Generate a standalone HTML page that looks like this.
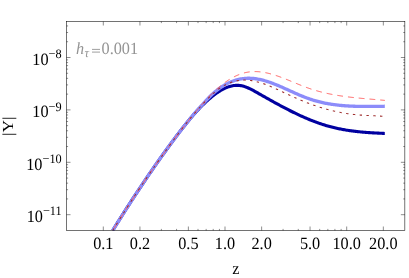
<!DOCTYPE html>
<html><head><meta charset="utf-8"><title>plot</title>
<style>
html,body{margin:0;padding:0;background:#fff;}
body{width:409px;height:278px;overflow:hidden;}
svg{display:block;}
text{font-family:"Liberation Serif",serif;font-size:16.25px;fill:#000;text-rendering:geometricPrecision;}
svg{will-change:transform;}
</style></head><body>
<svg width="409" height="278" viewBox="0 0 409 278">
<rect width="409" height="278" fill="#fff"/>
<defs><clipPath id="c"><rect x="66.5" y="21.5" width="338.35" height="209.0"/></clipPath></defs>
<g clip-path="url(#c)" fill="none" stroke-linejoin="round">
<path d="M112.70,230.50 L113.70,228.88 L114.70,227.26 L115.70,225.65 L116.70,224.04 L117.70,222.44 L118.70,220.84 L119.70,219.24 L120.70,217.65 L121.70,216.07 L122.70,214.49 L123.70,212.91 L124.70,211.34 L125.70,209.77 L126.70,208.21 L127.70,206.65 L128.70,205.09 L129.70,203.54 L130.70,201.99 L131.70,200.45 L132.70,198.92 L133.70,197.38 L134.70,195.86 L135.70,194.33 L136.70,192.81 L137.70,191.30 L138.70,189.79 L139.70,188.28 L140.70,186.78 L141.70,185.28 L142.70,183.79 L143.70,182.30 L144.70,180.82 L145.70,179.34 L146.70,177.87 L147.70,176.40 L148.70,174.94 L149.70,173.47 L150.70,172.02 L151.70,170.57 L152.70,169.12 L153.70,167.68 L154.70,166.24 L155.70,164.81 L156.70,163.38 L157.70,161.96 L158.70,160.54 L159.70,159.12 L160.70,157.72 L161.70,156.31 L162.70,154.91 L163.70,153.51 L164.70,152.12 L165.70,150.74 L166.70,149.36 L167.70,147.98 L168.70,146.61 L169.70,145.24 L170.70,143.88 L171.70,142.52 L172.70,141.16 L173.70,139.81 L174.70,138.47 L175.70,137.13 L176.70,135.80 L177.70,134.47 L178.70,133.15 L179.70,131.84 L180.70,130.54 L181.70,129.25 L182.70,127.96 L183.70,126.68 L184.70,125.42 L185.70,124.17 L186.70,122.92 L187.70,121.69 L188.70,120.48 L189.70,119.27 L190.70,118.08 L191.70,116.91 L192.70,115.75 L193.70,114.60 L194.70,113.47 L195.70,112.35 L196.70,111.25 L197.70,110.17 L198.70,109.10 L199.70,108.05 L200.70,107.02 L201.70,106.00 L202.70,105.00 L203.70,104.02 L204.70,103.06 L205.70,102.12 L206.70,101.20 L207.70,100.29 L208.70,99.41 L209.70,98.55 L210.70,97.71 L211.70,96.89 L212.70,96.09 L213.70,95.31 L214.70,94.55 L215.70,93.82 L216.70,93.11 L217.70,92.42 L218.70,91.76 L219.70,91.13 L220.70,90.52 L221.70,89.95 L222.70,89.40 L223.70,88.88 L224.70,88.39 L225.70,87.93 L226.70,87.51 L227.70,87.12 L228.70,86.77 L229.70,86.45 L230.70,86.17 L231.70,85.93 L232.70,85.73 L233.70,85.57 L234.70,85.44 L235.70,85.37 L236.70,85.33 L237.70,85.34 L238.70,85.39 L239.70,85.49 L240.70,85.63 L241.70,85.82 L242.70,86.06 L243.70,86.33 L244.70,86.64 L245.70,86.99 L246.70,87.37 L247.70,87.78 L248.70,88.22 L249.70,88.68 L250.70,89.17 L251.70,89.67 L252.70,90.20 L253.70,90.73 L254.70,91.28 L255.70,91.84 L256.70,92.40 L257.70,92.97 L258.70,93.54 L259.70,94.11 L260.70,94.68 L261.70,95.25 L262.70,95.81 L263.70,96.38 L264.70,96.95 L265.70,97.51 L266.70,98.08 L267.70,98.64 L268.70,99.20 L269.70,99.76 L270.70,100.32 L271.70,100.88 L272.70,101.43 L273.70,101.99 L274.70,102.54 L275.70,103.09 L276.70,103.63 L277.70,104.18 L278.70,104.72 L279.70,105.26 L280.70,105.80 L281.70,106.33 L282.70,106.86 L283.70,107.39 L284.70,107.92 L285.70,108.44 L286.70,108.96 L287.70,109.47 L288.70,109.99 L289.70,110.49 L290.70,111.00 L291.70,111.50 L292.70,111.99 L293.70,112.49 L294.70,112.97 L295.70,113.46 L296.70,113.93 L297.70,114.41 L298.70,114.88 L299.70,115.34 L300.70,115.80 L301.70,116.25 L302.70,116.70 L303.70,117.15 L304.70,117.59 L305.70,118.02 L306.70,118.45 L307.70,118.87 L308.70,119.29 L309.70,119.70 L310.70,120.10 L311.70,120.50 L312.70,120.89 L313.70,121.28 L314.70,121.66 L315.70,122.03 L316.70,122.40 L317.70,122.76 L318.70,123.12 L319.70,123.46 L320.70,123.81 L321.70,124.14 L322.70,124.47 L323.70,124.78 L324.70,125.10 L325.70,125.40 L326.70,125.70 L327.70,125.99 L328.70,126.27 L329.70,126.54 L330.70,126.81 L331.70,127.07 L332.70,127.32 L333.70,127.57 L334.70,127.81 L335.70,128.04 L336.70,128.26 L337.70,128.48 L338.70,128.69 L339.70,128.89 L340.70,129.09 L341.70,129.28 L342.70,129.47 L343.70,129.65 L344.70,129.83 L345.70,129.99 L346.70,130.16 L347.70,130.31 L348.70,130.47 L349.70,130.61 L350.70,130.76 L351.70,130.89 L352.70,131.03 L353.70,131.15 L354.70,131.28 L355.70,131.39 L356.70,131.51 L357.70,131.62 L358.70,131.72 L359.70,131.83 L360.70,131.92 L361.70,132.02 L362.70,132.11 L363.70,132.19 L364.70,132.28 L365.70,132.36 L366.70,132.44 L367.70,132.51 L368.70,132.58 L369.70,132.65 L370.70,132.72 L371.70,132.78 L372.70,132.84 L373.70,132.90 L374.70,132.96 L375.70,133.01 L376.70,133.06 L377.70,133.11 L378.70,133.16 L379.70,133.21 L380.70,133.26 L381.70,133.30 L382.70,133.35 L383.70,133.39 L384.70,133.43 L384.80,133.43" stroke="#0000a0" stroke-width="3.1"/>
<path d="M112.70,230.49 L113.70,228.89 L114.70,227.29 L115.70,225.69 L116.70,224.10 L117.70,222.51 L118.70,220.92 L119.70,219.33 L120.70,217.75 L121.70,216.17 L122.70,214.59 L123.70,213.02 L124.70,211.45 L125.70,209.89 L126.70,208.32 L127.70,206.76 L128.70,205.21 L129.70,203.66 L130.70,202.11 L131.70,200.56 L132.70,199.02 L133.70,197.48 L134.70,195.95 L135.70,194.42 L136.70,192.90 L137.70,191.37 L138.70,189.86 L139.70,188.34 L140.70,186.84 L141.70,185.33 L142.70,183.83 L143.70,182.33 L144.70,180.84 L145.70,179.36 L146.70,177.87 L147.70,176.40 L148.70,174.92 L149.70,173.45 L150.70,171.99 L151.70,170.53 L152.70,169.08 L153.70,167.63 L154.70,166.18 L155.70,164.75 L156.70,163.31 L157.70,161.88 L158.70,160.46 L159.70,159.04 L160.70,157.63 L161.70,156.22 L162.70,154.82 L163.70,153.42 L164.70,152.03 L165.70,150.64 L166.70,149.26 L167.70,147.89 L168.70,146.52 L169.70,145.16 L170.70,143.80 L171.70,142.45 L172.70,141.11 L173.70,139.77 L174.70,138.43 L175.70,137.11 L176.70,135.79 L177.70,134.47 L178.70,133.16 L179.70,131.86 L180.70,130.57 L181.70,129.28 L182.70,128.00 L183.70,126.72 L184.70,125.45 L185.70,124.19 L186.70,122.93 L187.70,121.69 L188.70,120.44 L189.70,119.21 L190.70,117.98 L191.70,116.77 L192.70,115.56 L193.70,114.37 L194.70,113.19 L195.70,112.02 L196.70,110.88 L197.70,109.75 L198.70,108.63 L199.70,107.53 L200.70,106.44 L201.70,105.35 L202.70,104.27 L203.70,103.18 L204.70,102.08 L205.70,100.99 L206.70,99.89 L207.70,98.81 L208.70,97.76 L209.70,96.73 L210.70,95.74 L211.70,94.78 L212.70,93.85 L213.70,92.95 L214.70,92.07 L215.70,91.23 L216.70,90.42 L217.70,89.64 L218.70,88.89 L219.70,88.16 L220.70,87.46 L221.70,86.80 L222.70,86.15 L223.70,85.54 L224.70,84.95 L225.70,84.39 L226.70,83.86 L227.70,83.35 L228.70,82.87 L229.70,82.41 L230.70,81.98 L231.70,81.58 L232.70,81.19 L233.70,80.84 L234.70,80.50 L235.70,80.19 L236.70,79.90 L237.70,79.64 L238.70,79.40 L239.70,79.18 L240.70,78.99 L241.70,78.82 L242.70,78.67 L243.70,78.55 L244.70,78.45 L245.70,78.37 L246.70,78.31 L247.70,78.27 L248.70,78.26 L249.70,78.27 L250.70,78.30 L251.70,78.35 L252.70,78.42 L253.70,78.51 L254.70,78.63 L255.70,78.76 L256.70,78.91 L257.70,79.08 L258.70,79.26 L259.70,79.47 L260.70,79.69 L261.70,79.92 L262.70,80.17 L263.70,80.44 L264.70,80.72 L265.70,81.01 L266.70,81.32 L267.70,81.64 L268.70,81.97 L269.70,82.31 L270.70,82.66 L271.70,83.03 L272.70,83.40 L273.70,83.78 L274.70,84.17 L275.70,84.57 L276.70,84.98 L277.70,85.39 L278.70,85.81 L279.70,86.24 L280.70,86.67 L281.70,87.11 L282.70,87.55 L283.70,87.99 L284.70,88.44 L285.70,88.89 L286.70,89.34 L287.70,89.79 L288.70,90.25 L289.70,90.70 L290.70,91.16 L291.70,91.61 L292.70,92.06 L293.70,92.51 L294.70,92.96 L295.70,93.41 L296.70,93.85 L297.70,94.29 L298.70,94.72 L299.70,95.15 L300.70,95.57 L301.70,95.98 L302.70,96.39 L303.70,96.79 L304.70,97.19 L305.70,97.57 L306.70,97.95 L307.70,98.31 L308.70,98.67 L309.70,99.02 L310.70,99.35 L311.70,99.68 L312.70,99.99 L313.70,100.30 L314.70,100.60 L315.70,100.88 L316.70,101.16 L317.70,101.43 L318.70,101.69 L319.70,101.94 L320.70,102.18 L321.70,102.41 L322.70,102.64 L323.70,102.85 L324.70,103.06 L325.70,103.26 L326.70,103.45 L327.70,103.64 L328.70,103.82 L329.70,103.99 L330.70,104.15 L331.70,104.30 L332.70,104.45 L333.70,104.59 L334.70,104.73 L335.70,104.86 L336.70,104.98 L337.70,105.10 L338.70,105.21 L339.70,105.31 L340.70,105.41 L341.70,105.50 L342.70,105.59 L343.70,105.67 L344.70,105.75 L345.70,105.82 L346.70,105.88 L347.70,105.95 L348.70,106.00 L349.70,106.06 L350.70,106.10 L351.70,106.15 L352.70,106.19 L353.70,106.23 L354.70,106.26 L355.70,106.29 L356.70,106.32 L357.70,106.34 L358.70,106.36 L359.70,106.38 L360.70,106.39 L361.70,106.40 L362.70,106.41 L363.70,106.42 L364.70,106.42 L365.70,106.42 L366.70,106.42 L367.70,106.42 L368.70,106.42 L369.70,106.41 L370.70,106.41 L371.70,106.40 L372.70,106.39 L373.70,106.39 L374.70,106.38 L375.70,106.37 L376.70,106.36 L377.70,106.34 L378.70,106.33 L379.70,106.32 L380.70,106.31 L381.70,106.30 L382.70,106.29 L383.70,106.28 L384.70,106.27 L384.80,106.27" stroke="#8c8cfa" stroke-width="3.3"/>
<path d="M112.70,230.50 L113.70,228.88 L114.70,227.26 L115.70,225.65 L116.70,224.05 L117.70,222.44 L118.70,220.85 L119.70,219.25 L120.70,217.66 L121.70,216.08 L122.70,214.49 L123.70,212.92 L124.70,211.34 L125.70,209.77 L126.70,208.21 L127.70,206.65 L128.70,205.09 L129.70,203.54 L130.70,202.00 L131.70,200.45 L132.70,198.91 L133.70,197.38 L134.70,195.85 L135.70,194.33 L136.70,192.81 L137.70,191.29 L138.70,189.78 L139.70,188.27 L140.70,186.77 L141.70,185.27 L142.70,183.78 L143.70,182.29 L144.70,180.81 L145.70,179.33 L146.70,177.85 L147.70,176.38 L148.70,174.92 L149.70,173.46 L150.70,172.00 L151.70,170.55 L152.70,169.10 L153.70,167.66 L154.70,166.23 L155.70,164.80 L156.70,163.37 L157.70,161.95 L158.70,160.53 L159.70,159.12 L160.70,157.71 L161.70,156.31 L162.70,154.91 L163.70,153.52 L164.70,152.13 L165.70,150.75 L166.70,149.37 L167.70,148.00 L168.70,146.63 L169.70,145.27 L170.70,143.92 L171.70,142.56 L172.70,141.22 L173.70,139.88 L174.70,138.54 L175.70,137.21 L176.70,135.88 L177.70,134.56 L178.70,133.25 L179.70,131.94 L180.70,130.64 L181.70,129.34 L182.70,128.04 L183.70,126.75 L184.70,125.47 L185.70,124.19 L186.70,122.92 L187.70,121.66 L188.70,120.39 L189.70,119.14 L190.70,117.89 L191.70,116.65 L192.70,115.41 L193.70,114.18 L194.70,112.96 L195.70,111.75 L196.70,110.54 L197.70,109.35 L198.70,108.16 L199.70,106.99 L200.70,105.82 L201.70,104.67 L202.70,103.53 L203.70,102.40 L204.70,101.28 L205.70,100.18 L206.70,99.09 L207.70,98.02 L208.70,96.96 L209.70,95.92 L210.70,94.89 L211.70,93.89 L212.70,92.90 L213.70,91.93 L214.70,90.99 L215.70,90.06 L216.70,89.15 L217.70,88.26 L218.70,87.40 L219.70,86.55 L220.70,85.73 L221.70,84.93 L222.70,84.15 L223.70,83.39 L224.70,82.65 L225.70,81.93 L226.70,81.24 L227.70,80.57 L228.70,79.92 L229.70,79.30 L230.70,78.69 L231.70,78.12 L232.70,77.56 L233.70,77.03 L234.70,76.52 L235.70,76.04 L236.70,75.58 L237.70,75.14 L238.70,74.73 L239.70,74.34 L240.70,73.98 L241.70,73.64 L242.70,73.33 L243.70,73.05 L244.70,72.79 L245.70,72.55 L246.70,72.35 L247.70,72.17 L248.70,72.01 L249.70,71.88 L250.70,71.77 L251.70,71.69 L252.70,71.63 L253.70,71.59 L254.70,71.58 L255.70,71.59 L256.70,71.61 L257.70,71.66 L258.70,71.73 L259.70,71.82 L260.70,71.93 L261.70,72.05 L262.70,72.19 L263.70,72.35 L264.70,72.53 L265.70,72.72 L266.70,72.93 L267.70,73.15 L268.70,73.39 L269.70,73.64 L270.70,73.91 L271.70,74.18 L272.70,74.47 L273.70,74.77 L274.70,75.08 L275.70,75.41 L276.70,75.74 L277.70,76.08 L278.70,76.43 L279.70,76.79 L280.70,77.15 L281.70,77.53 L282.70,77.91 L283.70,78.29 L284.70,78.68 L285.70,79.08 L286.70,79.48 L287.70,79.88 L288.70,80.29 L289.70,80.70 L290.70,81.11 L291.70,81.52 L292.70,81.94 L293.70,82.35 L294.70,82.76 L295.70,83.18 L296.70,83.59 L297.70,84.00 L298.70,84.41 L299.70,84.81 L300.70,85.21 L301.70,85.61 L302.70,86.00 L303.70,86.39 L304.70,86.77 L305.70,87.15 L306.70,87.52 L307.70,87.88 L308.70,88.23 L309.70,88.58 L310.70,88.91 L311.70,89.24 L312.70,89.56 L313.70,89.88 L314.70,90.18 L315.70,90.48 L316.70,90.77 L317.70,91.05 L318.70,91.33 L319.70,91.60 L320.70,91.86 L321.70,92.12 L322.70,92.37 L323.70,92.61 L324.70,92.85 L325.70,93.08 L326.70,93.31 L327.70,93.52 L328.70,93.74 L329.70,93.94 L330.70,94.15 L331.70,94.34 L332.70,94.53 L333.70,94.72 L334.70,94.90 L335.70,95.08 L336.70,95.25 L337.70,95.42 L338.70,95.58 L339.70,95.74 L340.70,95.89 L341.70,96.04 L342.70,96.18 L343.70,96.33 L344.70,96.46 L345.70,96.60 L346.70,96.73 L347.70,96.86 L348.70,96.98 L349.70,97.10 L350.70,97.22 L351.70,97.33 L352.70,97.45 L353.70,97.56 L354.70,97.66 L355.70,97.77 L356.70,97.87 L357.70,97.97 L358.70,98.07 L359.70,98.17 L360.70,98.26 L361.70,98.36 L362.70,98.45 L363.70,98.54 L364.70,98.63 L365.70,98.72 L366.70,98.81 L367.70,98.90 L368.70,98.98 L369.70,99.07 L370.70,99.15 L371.70,99.24 L372.70,99.32 L373.70,99.41 L374.70,99.49 L375.70,99.58 L376.70,99.67 L377.70,99.75 L378.70,99.84 L379.70,99.93 L380.70,100.02 L381.70,100.10 L382.70,100.20 L383.70,100.29 L384.70,100.38 L384.80,100.39" stroke="#ff6060" stroke-width="1.0" stroke-dasharray="5.8 5.0" stroke-dashoffset="8.15"/>
<path d="M112.70,230.50 L113.70,228.87 L114.70,227.24 L115.70,225.62 L116.70,224.01 L117.70,222.40 L118.70,220.79 L119.70,219.19 L120.70,217.60 L121.70,216.01 L122.70,214.42 L123.70,212.84 L124.70,211.27 L125.70,209.70 L126.70,208.13 L127.70,206.57 L128.70,205.02 L129.70,203.47 L130.70,201.93 L131.70,200.39 L132.70,198.85 L133.70,197.32 L134.70,195.80 L135.70,194.28 L136.70,192.76 L137.70,191.25 L138.70,189.74 L139.70,188.24 L140.70,186.75 L141.70,185.26 L142.70,183.77 L143.70,182.29 L144.70,180.81 L145.70,179.34 L146.70,177.87 L147.70,176.40 L148.70,174.95 L149.70,173.49 L150.70,172.04 L151.70,170.59 L152.70,169.15 L153.70,167.72 L154.70,166.28 L155.70,164.86 L156.70,163.43 L157.70,162.01 L158.70,160.60 L159.70,159.19 L160.70,157.78 L161.70,156.38 L162.70,154.98 L163.70,153.59 L164.70,152.20 L165.70,150.81 L166.70,149.43 L167.70,148.06 L168.70,146.68 L169.70,145.31 L170.70,143.95 L171.70,142.59 L172.70,141.23 L173.70,139.88 L174.70,138.53 L175.70,137.19 L176.70,135.85 L177.70,134.52 L178.70,133.19 L179.70,131.87 L180.70,130.56 L181.70,129.25 L182.70,127.95 L183.70,126.67 L184.70,125.39 L185.70,124.12 L186.70,122.86 L187.70,121.62 L188.70,120.38 L189.70,119.16 L190.70,117.95 L191.70,116.75 L192.70,115.56 L193.70,114.38 L194.70,113.21 L195.70,112.05 L196.70,110.90 L197.70,109.76 L198.70,108.62 L199.70,107.50 L200.70,106.38 L201.70,105.27 L202.70,104.17 L203.70,103.09 L204.70,102.01 L205.70,100.94 L206.70,99.88 L207.70,98.84 L208.70,97.82 L209.70,96.81 L210.70,95.83 L211.70,94.87 L212.70,93.94 L213.70,93.04 L214.70,92.16 L215.70,91.32 L216.70,90.51 L217.70,89.74 L218.70,88.99 L219.70,88.28 L220.70,87.60 L221.70,86.95 L222.70,86.33 L223.70,85.74 L224.70,85.19 L225.70,84.66 L226.70,84.16 L227.70,83.70 L228.70,83.26 L229.70,82.85 L230.70,82.48 L231.70,82.13 L232.70,81.80 L233.70,81.51 L234.70,81.25 L235.70,81.01 L236.70,80.80 L237.70,80.62 L238.70,80.46 L239.70,80.33 L240.70,80.23 L241.70,80.15 L242.70,80.10 L243.70,80.07 L244.70,80.07 L245.70,80.08 L246.70,80.13 L247.70,80.19 L248.70,80.28 L249.70,80.38 L250.70,80.51 L251.70,80.66 L252.70,80.82 L253.70,81.01 L254.70,81.21 L255.70,81.43 L256.70,81.67 L257.70,81.93 L258.70,82.20 L259.70,82.49 L260.70,82.79 L261.70,83.10 L262.70,83.43 L263.70,83.77 L264.70,84.13 L265.70,84.49 L266.70,84.87 L267.70,85.26 L268.70,85.66 L269.70,86.07 L270.70,86.48 L271.70,86.91 L272.70,87.34 L273.70,87.78 L274.70,88.23 L275.70,88.68 L276.70,89.13 L277.70,89.60 L278.70,90.06 L279.70,90.53 L280.70,91.00 L281.70,91.47 L282.70,91.95 L283.70,92.43 L284.70,92.90 L285.70,93.38 L286.70,93.85 L287.70,94.33 L288.70,94.80 L289.70,95.27 L290.70,95.74 L291.70,96.20 L292.70,96.66 L293.70,97.11 L294.70,97.56 L295.70,98.00 L296.70,98.44 L297.70,98.88 L298.70,99.31 L299.70,99.73 L300.70,100.16 L301.70,100.57 L302.70,100.98 L303.70,101.39 L304.70,101.79 L305.70,102.19 L306.70,102.58 L307.70,102.96 L308.70,103.34 L309.70,103.72 L310.70,104.09 L311.70,104.45 L312.70,104.81 L313.70,105.16 L314.70,105.51 L315.70,105.85 L316.70,106.19 L317.70,106.52 L318.70,106.84 L319.70,107.16 L320.70,107.48 L321.70,107.78 L322.70,108.08 L323.70,108.38 L324.70,108.67 L325.70,108.95 L326.70,109.23 L327.70,109.50 L328.70,109.77 L329.70,110.02 L330.70,110.28 L331.70,110.53 L332.70,110.77 L333.70,111.00 L334.70,111.23 L335.70,111.46 L336.70,111.67 L337.70,111.89 L338.70,112.09 L339.70,112.29 L340.70,112.49 L341.70,112.67 L342.70,112.86 L343.70,113.03 L344.70,113.20 L345.70,113.37 L346.70,113.52 L347.70,113.68 L348.70,113.82 L349.70,113.96 L350.70,114.10 L351.70,114.22 L352.70,114.35 L353.70,114.46 L354.70,114.57 L355.70,114.68 L356.70,114.77 L357.70,114.87 L358.70,114.95 L359.70,115.03 L360.70,115.11 L361.70,115.17 L362.70,115.24 L363.70,115.30 L364.70,115.35 L365.70,115.40 L366.70,115.45 L367.70,115.49 L368.70,115.53 L369.70,115.58 L370.70,115.62 L371.70,115.66 L372.70,115.70 L373.70,115.75 L374.70,115.79 L375.70,115.84 L376.70,115.89 L377.70,115.95 L378.70,116.01 L379.70,116.07 L380.70,116.14 L381.70,116.22 L382.70,116.31 L383.70,116.40 L384.70,116.50 L384.80,116.51" stroke="#a03030" stroke-width="1.1" stroke-dasharray="2.4 4.4" stroke-dashoffset="0.04"/>
</g>
<g stroke="#000" stroke-width="0.55" fill="none">
<rect x="66.5" y="21.5" width="338.35" height="209.0"/>
</g>
<g stroke="#000" stroke-width="0.45">
<line x1="103.30" y1="230.50" x2="103.30" y2="226.50"/><line x1="103.30" y1="21.50" x2="103.30" y2="25.50"/><line x1="139.94" y1="230.50" x2="139.94" y2="226.50"/><line x1="139.94" y1="21.50" x2="139.94" y2="25.50"/><line x1="188.36" y1="230.50" x2="188.36" y2="226.50"/><line x1="188.36" y1="21.50" x2="188.36" y2="25.50"/><line x1="225.00" y1="230.50" x2="225.00" y2="226.50"/><line x1="225.00" y1="21.50" x2="225.00" y2="25.50"/><line x1="261.64" y1="230.50" x2="261.64" y2="226.50"/><line x1="261.64" y1="21.50" x2="261.64" y2="25.50"/><line x1="310.06" y1="230.50" x2="310.06" y2="226.50"/><line x1="310.06" y1="21.50" x2="310.06" y2="25.50"/><line x1="346.70" y1="230.50" x2="346.70" y2="226.50"/><line x1="346.70" y1="21.50" x2="346.70" y2="25.50"/><line x1="383.34" y1="230.50" x2="383.34" y2="226.50"/><line x1="383.34" y1="21.50" x2="383.34" y2="25.50"/><line x1="161.37" y1="230.50" x2="161.37" y2="228.90"/><line x1="161.37" y1="21.50" x2="161.37" y2="23.10"/><line x1="176.57" y1="230.50" x2="176.57" y2="228.90"/><line x1="176.57" y1="21.50" x2="176.57" y2="23.10"/><line x1="198.00" y1="230.50" x2="198.00" y2="228.90"/><line x1="198.00" y1="21.50" x2="198.00" y2="23.10"/><line x1="206.15" y1="230.50" x2="206.15" y2="228.90"/><line x1="206.15" y1="21.50" x2="206.15" y2="23.10"/><line x1="213.21" y1="230.50" x2="213.21" y2="228.90"/><line x1="213.21" y1="21.50" x2="213.21" y2="23.10"/><line x1="219.43" y1="230.50" x2="219.43" y2="228.90"/><line x1="219.43" y1="21.50" x2="219.43" y2="23.10"/><line x1="283.07" y1="230.50" x2="283.07" y2="228.90"/><line x1="283.07" y1="21.50" x2="283.07" y2="23.10"/><line x1="298.27" y1="230.50" x2="298.27" y2="228.90"/><line x1="298.27" y1="21.50" x2="298.27" y2="23.10"/><line x1="319.70" y1="230.50" x2="319.70" y2="228.90"/><line x1="319.70" y1="21.50" x2="319.70" y2="23.10"/><line x1="327.85" y1="230.50" x2="327.85" y2="228.90"/><line x1="327.85" y1="21.50" x2="327.85" y2="23.10"/><line x1="334.91" y1="230.50" x2="334.91" y2="228.90"/><line x1="334.91" y1="21.50" x2="334.91" y2="23.10"/><line x1="341.13" y1="230.50" x2="341.13" y2="228.90"/><line x1="341.13" y1="21.50" x2="341.13" y2="23.10"/><line x1="66.50" y1="57.50" x2="70.50" y2="57.50"/><line x1="404.85" y1="57.50" x2="400.85" y2="57.50"/><line x1="66.50" y1="109.90" x2="70.50" y2="109.90"/><line x1="404.85" y1="109.90" x2="400.85" y2="109.90"/><line x1="66.50" y1="162.30" x2="70.50" y2="162.30"/><line x1="404.85" y1="162.30" x2="400.85" y2="162.30"/><line x1="66.50" y1="214.70" x2="70.50" y2="214.70"/><line x1="404.85" y1="214.70" x2="400.85" y2="214.70"/><line x1="66.50" y1="198.93" x2="68.10" y2="198.93"/><line x1="404.85" y1="198.93" x2="403.25" y2="198.93"/><line x1="66.50" y1="189.70" x2="68.10" y2="189.70"/><line x1="404.85" y1="189.70" x2="403.25" y2="189.70"/><line x1="66.50" y1="183.15" x2="68.10" y2="183.15"/><line x1="404.85" y1="183.15" x2="403.25" y2="183.15"/><line x1="66.50" y1="178.07" x2="68.10" y2="178.07"/><line x1="404.85" y1="178.07" x2="403.25" y2="178.07"/><line x1="66.50" y1="173.92" x2="68.10" y2="173.92"/><line x1="404.85" y1="173.92" x2="403.25" y2="173.92"/><line x1="66.50" y1="170.42" x2="68.10" y2="170.42"/><line x1="404.85" y1="170.42" x2="403.25" y2="170.42"/><line x1="66.50" y1="167.38" x2="68.10" y2="167.38"/><line x1="404.85" y1="167.38" x2="403.25" y2="167.38"/><line x1="66.50" y1="164.70" x2="68.10" y2="164.70"/><line x1="404.85" y1="164.70" x2="403.25" y2="164.70"/><line x1="66.50" y1="146.53" x2="68.10" y2="146.53"/><line x1="404.85" y1="146.53" x2="403.25" y2="146.53"/><line x1="66.50" y1="137.30" x2="68.10" y2="137.30"/><line x1="404.85" y1="137.30" x2="403.25" y2="137.30"/><line x1="66.50" y1="130.75" x2="68.10" y2="130.75"/><line x1="404.85" y1="130.75" x2="403.25" y2="130.75"/><line x1="66.50" y1="125.67" x2="68.10" y2="125.67"/><line x1="404.85" y1="125.67" x2="403.25" y2="125.67"/><line x1="66.50" y1="121.52" x2="68.10" y2="121.52"/><line x1="404.85" y1="121.52" x2="403.25" y2="121.52"/><line x1="66.50" y1="118.02" x2="68.10" y2="118.02"/><line x1="404.85" y1="118.02" x2="403.25" y2="118.02"/><line x1="66.50" y1="114.98" x2="68.10" y2="114.98"/><line x1="404.85" y1="114.98" x2="403.25" y2="114.98"/><line x1="66.50" y1="112.30" x2="68.10" y2="112.30"/><line x1="404.85" y1="112.30" x2="403.25" y2="112.30"/><line x1="66.50" y1="94.13" x2="68.10" y2="94.13"/><line x1="404.85" y1="94.13" x2="403.25" y2="94.13"/><line x1="66.50" y1="84.90" x2="68.10" y2="84.90"/><line x1="404.85" y1="84.90" x2="403.25" y2="84.90"/><line x1="66.50" y1="78.35" x2="68.10" y2="78.35"/><line x1="404.85" y1="78.35" x2="403.25" y2="78.35"/><line x1="66.50" y1="73.27" x2="68.10" y2="73.27"/><line x1="404.85" y1="73.27" x2="403.25" y2="73.27"/><line x1="66.50" y1="69.12" x2="68.10" y2="69.12"/><line x1="404.85" y1="69.12" x2="403.25" y2="69.12"/><line x1="66.50" y1="65.62" x2="68.10" y2="65.62"/><line x1="404.85" y1="65.62" x2="403.25" y2="65.62"/><line x1="66.50" y1="62.58" x2="68.10" y2="62.58"/><line x1="404.85" y1="62.58" x2="403.25" y2="62.58"/><line x1="66.50" y1="59.90" x2="68.10" y2="59.90"/><line x1="404.85" y1="59.90" x2="403.25" y2="59.90"/><line x1="66.50" y1="41.73" x2="68.10" y2="41.73"/><line x1="404.85" y1="41.73" x2="403.25" y2="41.73"/><line x1="66.50" y1="32.50" x2="68.10" y2="32.50"/><line x1="404.85" y1="32.50" x2="403.25" y2="32.50"/><line x1="66.50" y1="25.95" x2="68.10" y2="25.95"/><line x1="404.85" y1="25.95" x2="403.25" y2="25.95"/>
</g>
<text transform="translate(103.30,248.70) scale(1,1.055)" text-anchor="middle" >0.1</text><text transform="translate(139.94,248.70) scale(1,1.055)" text-anchor="middle" >0.2</text><text transform="translate(188.36,248.70) scale(1,1.055)" text-anchor="middle" >0.5</text><text transform="translate(225.00,248.70) scale(1,1.055)" text-anchor="middle" >1.0</text><text transform="translate(261.64,248.70) scale(1,1.055)" text-anchor="middle" >2.0</text><text transform="translate(310.06,248.70) scale(1,1.055)" text-anchor="middle" >5.0</text><text transform="translate(346.70,248.70) scale(1,1.055)" text-anchor="middle" >10.0</text><text transform="translate(383.34,248.70) scale(1,1.055)" text-anchor="middle" >20.0</text>
<text transform="translate(61.70,64.90) scale(1,1.055)" text-anchor="end" >10<tspan dy="-6.3" font-size="12.3">−8</tspan></text><text transform="translate(61.70,117.30) scale(1,1.055)" text-anchor="end" >10<tspan dy="-6.3" font-size="12.3">−9</tspan></text><text transform="translate(61.70,169.70) scale(1,1.055)" text-anchor="end" >10<tspan dy="-6.3" font-size="12.3">−10</tspan></text><text transform="translate(61.70,222.10) scale(1,1.055)" text-anchor="end" >10<tspan dy="-6.3" font-size="12.3">−11</tspan></text>
<text transform="translate(235.90,274.00) scale(1,1.055)" text-anchor="middle" >z</text>
<text transform="translate(13.2,126.2) scale(0.942,1.07) rotate(-90)" text-anchor="middle">|Y|</text>
<text transform="translate(76.00,54.30) scale(1,1.055)" text-anchor="start" style="fill:#949494"><tspan font-style="italic">h</tspan></text><text transform="translate(84.60,57.40) scale(1,1.055)" text-anchor="start" style="fill:#949494"><tspan font-style="italic" font-size="12.5">τ</tspan></text><path d="M92,49.4H100M92,52.1H100" stroke="#949494" stroke-width="0.9" fill="none"/><text transform="translate(101.50,54.30) scale(1,1.055)" text-anchor="start" style="fill:#949494">0.001</text>
</svg>
</body></html>
